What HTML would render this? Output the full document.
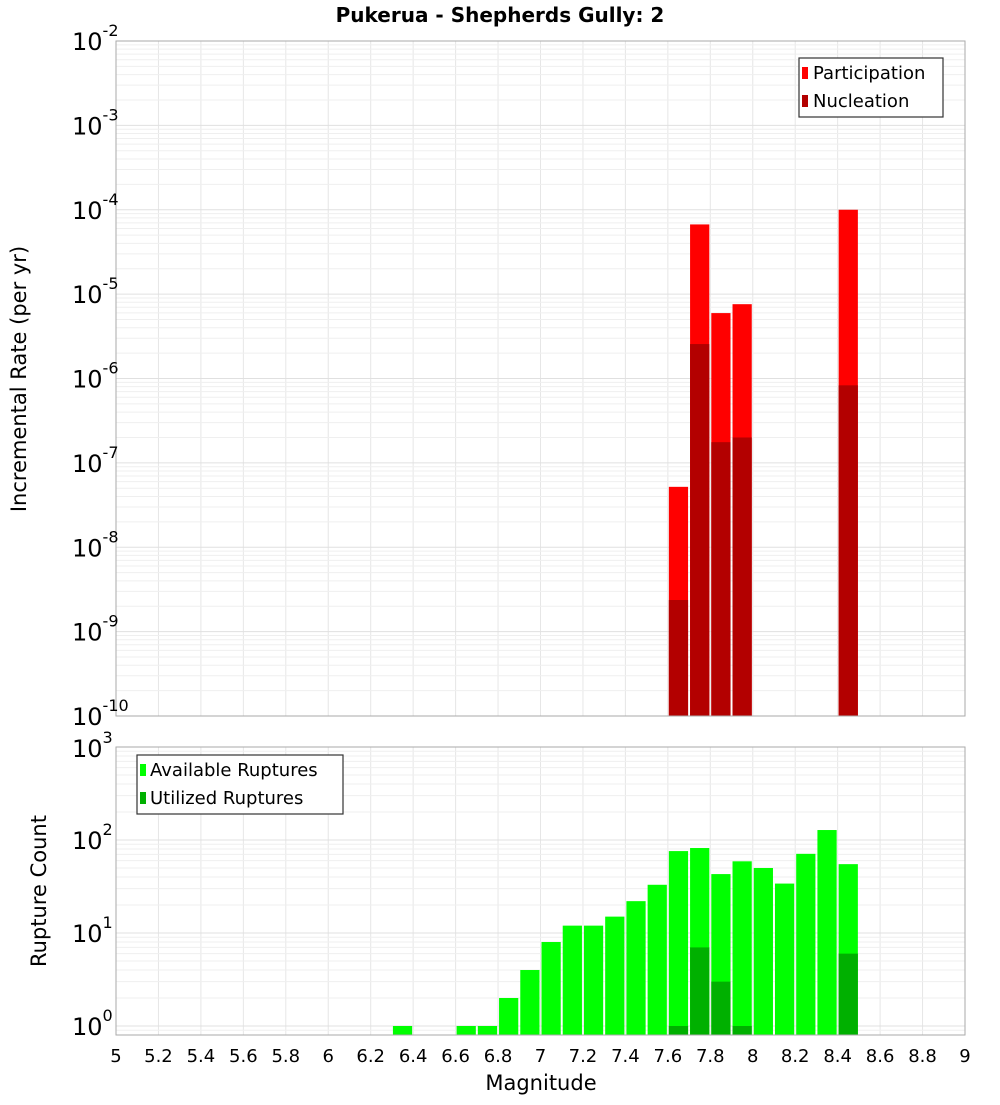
<!DOCTYPE html>
<html><head><meta charset="utf-8"><style>
body{margin:0;background:#fff;width:1000px;height:1100px;overflow:hidden}
svg{font-family:"DejaVu Sans","Liberation Sans",sans-serif}
</style></head><body>
<svg id="chart" width="1000" height="1100"></svg>
<script>
const mags = [6.35,6.65,6.75,6.85,6.95,7.05,7.15,7.25,7.35,7.45,7.55,7.65,7.75,7.85,7.95,8.05,8.15,8.25,8.35,8.45];
const available = [1,1,1,2,4,8,12,12,15,22,33,76,82,43,59,50,34,71,128,55];
const utilMags = [7.65,7.75,7.85,7.95,8.45];
const utilized = [1,7,3,1,6];
const rateMags = [7.65,7.75,7.85,7.95,8.45];
const participation = [5.2e-8,6.7e-5,5.96e-6,7.6e-6,1.0e-4];
const nucleation = [2.37e-9,2.56e-6,1.76e-7,2.0e-7,8.3e-7];
const xTicks = [5,5.2,5.4,5.6,5.8,6,6.2,6.4,6.6,6.8,7,7.2,7.4,7.6,7.8,8,8.2,8.4,8.6,8.8,9];

const NS="http://www.w3.org/2000/svg";
const svg=document.getElementById('chart');
function mk(tag,attrs,parent,name,txt){const e=document.createElementNS(NS,tag);for(const k in attrs)e.setAttribute(k,attrs[k]);


if(txt!==undefined)e.textContent=txt;(parent||svg).appendChild(e);return e;}
const X0=116,X1=965;
const x=m=>X0+(m-5)/4*(X1-X0);
// top axis
const T0=41,T1=716;
const yTop=v=>T1-(Math.log10(v)+10)/8*(T1-T0);
// bottom axis
const B0=747,B1=1035,BDec=93;
const yBot=v=>1026-Math.log10(v)*BDec;

function grid(top,bot,lo,hi,yf,gname){
  const g=mk('g',{},svg,gname);
  for(const t of xTicks){mk('line',{x1:x(t),x2:x(t),y1:top,y2:bot,stroke:'#e6e6e6','stroke-width':1},g,'x-grid-line');}
  for(let d=lo;d<hi;d++){for(let k=1;k<10;k++){const yy=yf(k*Math.pow(10,d));if(yy<top||yy>bot)continue;
    mk('line',{x1:X0,x2:X1,y1:yy,y2:yy,stroke:k==1?'#e0e0e0':'#efefef','stroke-width':1},g,'y-grid-line');}}
}
grid(T0,T1,-10,-2,yTop,'top-grid');
grid(B0,B1,-1,3,yBot,'bottom-grid');

const bw=(x(5.1)-x(5))-2;
// top bars
const tb=mk('g',{},svg,'rate-bars');
rateMags.forEach((m,i)=>{
  const xl=x(m-0.05)+1;
  let y=yTop(participation[i]);
  mk('rect',{x:xl,y:y,width:bw,height:T1-y,fill:'#ff0000'},tb,'participation-bar');
  y=yTop(nucleation[i]);
  mk('rect',{x:xl,y:y,width:bw,height:T1-y,fill:'#b30000'},tb,'nucleation-bar');
});
// bottom bars
const bb=mk('g',{},svg,'count-bars');
mags.forEach((m,i)=>{
  const xl=x(m-0.05)+1;const y=yBot(available[i]);
  mk('rect',{x:xl,y:y,width:bw,height:B1-y,fill:'#00ff00'},bb,'available-bar');
});
utilMags.forEach((m,i)=>{
  const xl=x(m-0.05)+1;const y=yBot(utilized[i]);
  mk('rect',{x:xl,y:y,width:bw,height:B1-y,fill:'#00b000'},bb,'utilized-bar');
});
// frames
mk('rect',{x:X0,y:T0,width:X1-X0,height:T1-T0,fill:'none',stroke:'#aaa'},svg,'top-plot-frame');
mk('rect',{x:X0,y:B0,width:X1-X0,height:B1-B0,fill:'none',stroke:'#aaa'},svg,'bottom-plot-frame');

// y tick labels
function ylab(d,yy,name){const t=mk('text',{x:72,y:yy+9,'font-size':24,fill:'#000'},svg,name,'10');
  const s=document.createElementNS(NS,'tspan');s.setAttribute('dy',-14);s.setAttribute('font-size',16);s.textContent=d;t.appendChild(s);}
for(let d=-10;d<=-2;d++)ylab(d,yTop(Math.pow(10,d)),'top-y-tick-label');
for(let d=0;d<=3;d++)ylab(d,d==3?B0+1:yBot(Math.pow(10,d)),'bottom-y-tick-label');
// x tick labels
const xl=mk('g',{},svg,'x-tick-labels');
xTicks.forEach(t=>{mk('text',{x:x(t),y:1062,'font-size':18,'text-anchor':'middle'},xl,'x-tick-label',String(Math.round(t*10)/10));});

mk('text',{x:500,y:22,'font-size':20,'font-weight':'bold','text-anchor':'middle'},svg,'chart-title','Pukerua - Shepherds Gully: 2');
mk('text',{x:541,y:1090,'font-size':21,'text-anchor':'middle'},svg,'x-axis-title','Magnitude');
mk('text',{x:0,y:0,'font-size':21,'text-anchor':'middle',transform:'translate(26,379) rotate(-90)'},svg,'top-y-axis-title','Incremental Rate (per yr)');
mk('text',{x:0,y:0,'font-size':21,'text-anchor':'middle',transform:'translate(46,891) rotate(-90)'},svg,'bottom-y-axis-title','Rupture Count');

// legends
const l1=mk('g',{},svg,'rate-legend');
mk('rect',{x:799,y:58,width:144,height:59,fill:'#fff',stroke:'#333','stroke-width':1.2},l1,'legend-box');
mk('rect',{x:802,y:67,width:6,height:12,fill:'#ff0000'},l1,'legend-swatch-participation');
mk('text',{x:813,y:79,'font-size':18},l1,'legend-entry-participation','Participation');
mk('rect',{x:802,y:95,width:6,height:12,fill:'#b30000'},l1,'legend-swatch-nucleation');
mk('text',{x:813,y:107,'font-size':18},l1,'legend-entry-nucleation','Nucleation');
const l2=mk('g',{},svg,'count-legend');
mk('rect',{x:137,y:755,width:206,height:59,fill:'#fff',stroke:'#333','stroke-width':1.2},l2,'legend-box');
mk('rect',{x:140,y:764,width:6,height:12,fill:'#00ff00'},l2,'legend-swatch-available');
mk('text',{x:150,y:776,'font-size':18},l2,'legend-entry-available','Available Ruptures');
mk('rect',{x:140,y:792,width:6,height:12,fill:'#00b000'},l2,'legend-swatch-utilized');
mk('text',{x:150,y:804,'font-size':18},l2,'legend-entry-utilized','Utilized Ruptures');
</script>
</body></html>
